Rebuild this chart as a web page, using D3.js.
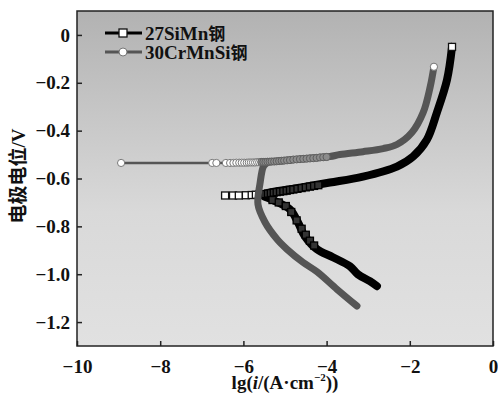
<!DOCTYPE html>
<html><head><meta charset="utf-8">
<script src="https://cdn.jsdelivr.net/npm/d3@7"></script>
<style>
html,body{margin:0;padding:0;background:#fff;}
svg text{font-family:"Liberation Serif","Times New Roman",serif;font-weight:bold;fill:#111;}
</style></head>
<body>
<svg id="chart" width="498" height="393"></svg>
<script>
// ---- data ----
const xTicks = [-10, -8, -6, -4, -2, 0];
const yTicks = [0, -0.2, -0.4, -0.6, -0.8, -1.0, -1.2];
const seriesNames = ["27SiMn钢", "30CrMnSi钢"];

// 27SiMn: cathodic branch (thick band), from most negative to Ecorr
const siMnCathodic = [[-2.79,-1.05],[-2.96,-1.029],[-3.25,-1.0],[-3.44,-0.967],[-3.85,-0.929],[-4.23,-0.896],[-4.52,-0.842],[-4.69,-0.783],[-4.88,-0.729],[-5.29,-0.69],[-5.5,-0.675]];
// 27SiMn: anodic branch (thick band)
const siMnAnodic = [[-5.55,-0.667],[-5.36,-0.658],[-4.64,-0.638],[-3.92,-0.617],[-3.125,-0.592],[-2.31,-0.55],[-1.92,-0.508],[-1.59,-0.438],[-1.35,-0.325],[-1.106,-0.188],[-0.985,-0.05]];
// 27SiMn: open markers near Ecorr
const siMnMarkers = [[-6.44,-0.671],[-6.25,-0.671],[-6.11,-0.671],[-5.94,-0.670],[-5.8,-0.669],[-5.7,-0.668],[-5.62,-0.667]];
// 27SiMn: dense overlapping markers on the branches
const siMnDense = [[-5.55,-0.667],[-5.48,-0.665],[-5.41,-0.663],[-5.34,-0.661],[-5.27,-0.659],[-5.2,-0.657],[-5.12,-0.655],[-5.04,-0.653],[-4.96,-0.651],[-4.88,-0.648],[-4.8,-0.646],[-4.7,-0.643],[-4.6,-0.64],[-4.5,-0.637],[-4.4,-0.634],[-4.3,-0.631],[-4.2,-0.628],[-5.3,-0.69],[-5.15,-0.7],[-4.98,-0.715],[-4.85,-0.74],[-4.72,-0.775],[-4.6,-0.81],[-4.5,-0.835],[-4.4,-0.86],[-4.3,-0.88]];
const siMnEnd = [[-0.985,-0.05]];

// 30CrMnSi: cathodic branch (thick band)
const crMnSiCathodic = [[-3.27,-1.133],[-3.75,-1.063],[-4.23,-0.99],[-4.57,-0.95],[-4.95,-0.896],[-5.19,-0.854],[-5.48,-0.783],[-5.65,-0.708],[-5.6,-0.62],[-5.52,-0.55],[-5.45,-0.537]];
// 30CrMnSi: anodic branch (thick band)
const crMnSiAnodic = [[-5.8,-0.533],[-5.29,-0.529],[-4.6,-0.518],[-3.92,-0.508],[-3.68,-0.5],[-3.125,-0.488],[-2.64,-0.475],[-2.31,-0.458],[-1.95,-0.408],[-1.68,-0.325],[-1.51,-0.217],[-1.42,-0.133]];
// 30CrMnSi: thin line at Ecorr
const crMnSiEcorr = [[-8.94,-0.535],[-6.75,-0.535],[-5.8,-0.534]];
// 30CrMnSi: open circle markers near Ecorr
const crMnSiMarkers = [[-8.94,-0.535],[-6.75,-0.535],[-6.65,-0.535],[-6.42,-0.535],[-6.32,-0.535],[-6.24,-0.535],[-6.17,-0.534],[-6.1,-0.534],[-6.04,-0.534],[-5.98,-0.534],[-5.92,-0.534],[-5.87,-0.533],[-5.82,-0.533],[-5.77,-0.533],[-5.72,-0.533],[-5.67,-0.532],[-5.62,-0.532]];
// 30CrMnSi: dense overlapping markers on the anodic band
const crMnSiDense = [[-5.57,-0.531],[-5.52,-0.531],[-5.47,-0.531],[-5.42,-0.530],[-5.37,-0.530],[-5.32,-0.529],[-5.26,-0.529],[-5.2,-0.528],[-5.14,-0.527],[-5.08,-0.526],[-5.02,-0.525],[-4.95,-0.524],[-4.88,-0.523],[-4.8,-0.521],[-4.72,-0.520],[-4.64,-0.519],[-4.56,-0.518],[-4.48,-0.517],[-4.4,-0.516],[-4.32,-0.515],[-4.24,-0.514],[-4.16,-0.512],[-4.08,-0.511],[-4.0,-0.510]];
const crMnSiEnd = [[-1.42,-0.133]];

// ---- layout ----
const svg = d3.select("#chart");
const L = 77, R = 493, T = 11, B = 346;
const x = d3.scaleLinear().domain([-10, 0]).range([L, R]);
const y = d3.scaleLinear().domain([-1.3, 0.1]).range([B, T]);

const defs = svg.append("defs");
const grad = defs.append("linearGradient").attr("id","bg").attr("x1",0).attr("y1",0).attr("x2",0).attr("y2",1);
grad.append("stop").attr("offset","0%").attr("stop-color","#b2b2b2");
grad.append("stop").attr("offset","30%").attr("stop-color","#c6c6c6");
grad.append("stop").attr("offset","60%").attr("stop-color","#d9d9d9");
grad.append("stop").attr("offset","100%").attr("stop-color","#e1e1e1");
defs.append("clipPath").attr("id","clip").append("rect").attr("x",L).attr("y",T).attr("width",R-L).attr("height",B-T);

svg.append("rect").attr("x",L).attr("y",T).attr("width",R-L).attr("height",B-T).attr("fill","url(#bg)");

const line = d3.line().x(d=>x(d[0])).y(d=>y(d[1])).curve(d3.curveCatmullRom.alpha(0.5));
const lineLin = d3.line().x(d=>x(d[0])).y(d=>y(d[1]));
const g = svg.append("g").attr("clip-path","url(#clip)");

const BLACK = "#000", GRAY = "#555";
const sq = 7;
function squares(data, cls, fill, stroke) {
  g.selectAll("rect." + cls).data(data).join("rect").attr("class", cls)
    .attr("x",d=>x(d[0])-sq/2).attr("y",d=>y(d[1])-sq/2).attr("width",sq).attr("height",sq)
    .attr("fill",fill).attr("stroke",stroke).attr("stroke-width",1.3);
}
function circles(data, cls, fill, stroke) {
  g.selectAll("circle." + cls).data(data).join("circle").attr("class", cls)
    .attr("cx",d=>x(d[0])).attr("cy",d=>y(d[1])).attr("r",3.6)
    .attr("fill",fill).attr("stroke",stroke).attr("stroke-width",1);
}

// 27SiMn
g.append("path").attr("d", line(siMnCathodic)).attr("fill","none").attr("stroke",BLACK).attr("stroke-width",8).attr("stroke-linecap","round").attr("stroke-linejoin","round");
g.append("path").attr("d", line(siMnAnodic)).attr("fill","none").attr("stroke",BLACK).attr("stroke-width",8).attr("stroke-linecap","round").attr("stroke-linejoin","round");
squares(siMnMarkers, "sm", "#fff", "#111");
squares(siMnDense, "sd", "#333", "#000");
squares(siMnEnd, "se", "#fff", "#111");

// 30CrMnSi
g.append("path").attr("d", lineLin(crMnSiEcorr)).attr("fill","none").attr("stroke",GRAY).attr("stroke-width",2.5);
g.append("path").attr("d", line(crMnSiAnodic)).attr("fill","none").attr("stroke",GRAY).attr("stroke-width",7).attr("stroke-linecap","round").attr("stroke-linejoin","round");
g.append("path").attr("d", line(crMnSiCathodic)).attr("fill","none").attr("stroke",GRAY).attr("stroke-width",7).attr("stroke-linecap","round").attr("stroke-linejoin","round");
circles(crMnSiMarkers, "cm", "#fff", "#777");
circles(crMnSiDense, "cd", "#8c8c8c", "#5e5e5e");
circles(crMnSiEnd, "ce", "#fff", "#777");

// frame
svg.append("rect").attr("x",L).attr("y",T).attr("width",R-L).attr("height",B-T).attr("fill","none").attr("stroke","#222").attr("stroke-width",1.5);

// axes
const fmt = v => (v === 0 ? "0" : (v < 0 ? "\u2212" : "") + d3.format(".1f")(Math.abs(v)));
const xa = svg.append("g").attr("transform",`translate(0,${B})`)
  .call(d3.axisBottom(x).tickValues(xTicks).tickSize(-5).tickPadding(10).tickFormat(v => (v<0?"\u2212":"") + Math.abs(v)));
const ya = svg.append("g").attr("transform",`translate(${L},0)`)
  .call(d3.axisLeft(y).tickValues(yTicks).tickSize(-5).tickPadding(7).tickFormat(fmt));
[xa, ya].forEach(a => {
  a.select(".domain").remove();
  a.selectAll(".tick line").attr("stroke","#222").attr("stroke-width",1.5);
  a.selectAll(".tick text").attr("font-size",19).attr("fill","#111")
    .style("font-family","'Liberation Serif',serif").style("font-weight","bold");
});
xa.selectAll(".tick text").attr("dy","0.9em");

// axis titles
const xt = svg.append("text").attr("x",(L+R)/2).attr("y",389).attr("text-anchor","middle").attr("font-size",19)
  .text("lg(");
xt.append("tspan").attr("font-style","italic").text("i");
xt.append("tspan").text("/(A\u00b7cm");
xt.append("tspan").attr("font-size",11).attr("dy",-8).text("\u22122");
xt.append("tspan").attr("dy",8).text("))");

const yt = svg.append("text").attr("transform","translate(25,176) rotate(-90)").attr("text-anchor","middle").attr("font-size",19);
yt.append("tspan").style("font-family","'Noto Sans CJK SC',sans-serif").style("font-weight","bold").text("电极电位");
yt.append("tspan").text("/V");

// legend
const legend = svg.append("g");
const legY = [33, 52];
seriesNames.forEach((name, i) => {
  const c = i === 0 ? BLACK : GRAY;
  legend.append("line").attr("x1",105).attr("x2",142).attr("y1",legY[i]).attr("y2",legY[i]).attr("stroke",c).attr("stroke-width",3);
  if (i === 0) {
    legend.append("rect").attr("x",123-sq/2-0.5).attr("y",legY[i]-sq/2-0.5).attr("width",sq+1).attr("height",sq+1).attr("fill","#fff").attr("stroke","#111").attr("stroke-width",1.3);
  } else {
    legend.append("circle").attr("cx",123).attr("cy",legY[i]).attr("r",4).attr("fill","#fff").attr("stroke","#777").attr("stroke-width",1);
  }
  const m = name.match(/^(.*?)([\u4e00-\u9fff]+)$/);
  const t = legend.append("text").attr("x",145).attr("y",legY[i]).attr("dy","0.35em").attr("font-size",19).text(m[1]);
  t.append("tspan").style("font-family","'Noto Sans CJK SC',sans-serif").style("font-weight","bold").attr("font-size",17).text(m[2]);
});
</script>
</body></html>
